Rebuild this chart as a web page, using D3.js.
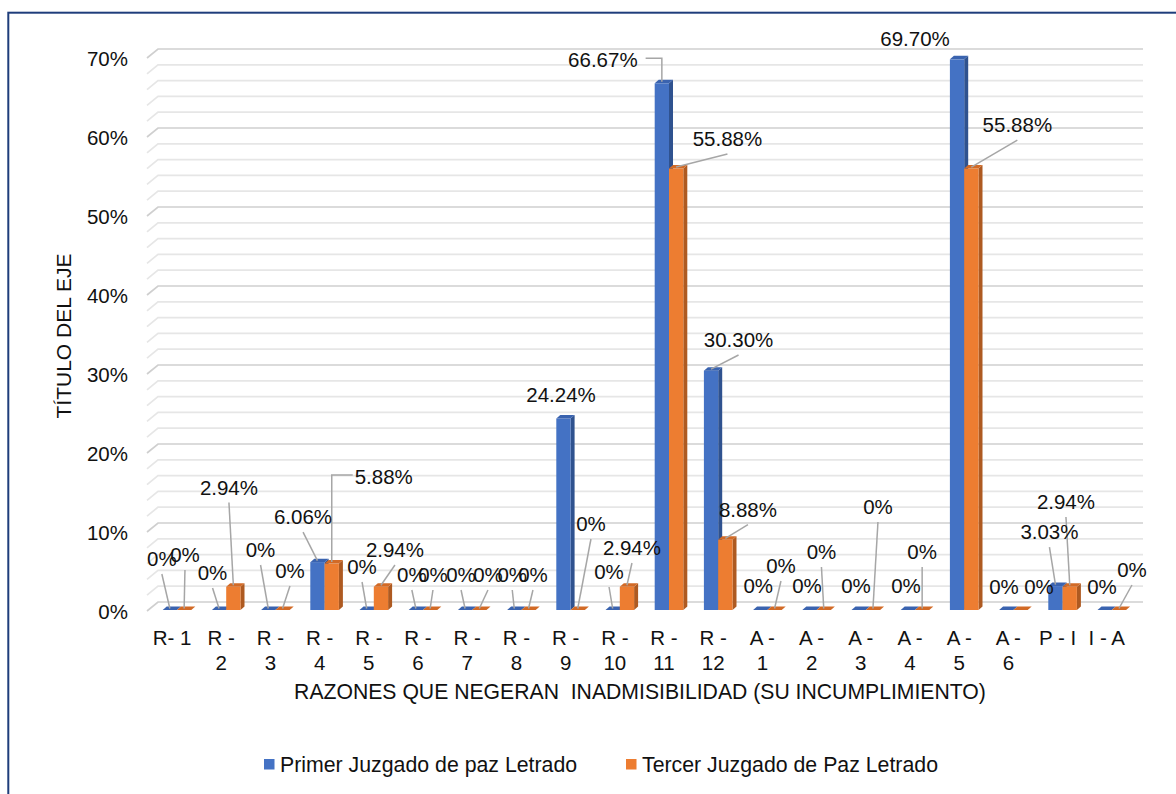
<!DOCTYPE html>
<html>
<head>
<meta charset="utf-8">
<script src="https://cdn.jsdelivr.net/npm/d3@7"></script>
<style>
  html, body { margin: 0; padding: 0; background: #fff; }
  svg text { font-family: "Liberation Sans", Arial, sans-serif; fill: #111; }
</style>
</head>
<body>
<svg width="1176" height="794"></svg>
<script>
// categories and values (percent)
var categories = ["R- 1", "R - 2", "R - 3", "R - 4", "R - 5", "R - 6", "R - 7", "R - 8", "R - 9", "R - 10",
                  "R - 11", "R - 12", "A - 1", "A - 2", "A - 3", "A - 4", "A - 5", "A - 6", "P - I", "I - A"];
var primer = [0, 0, 0, 6.06, 0, 0, 0, 0, 24.24, 0, 66.67, 30.30, 0, 0, 0, 0, 69.70, 0, 3.03, 0];
var tercer = [0, 2.94, 0, 5.88, 2.94, 0, 0, 0, 0, 2.94, 55.88, 8.88, 0, 0, 0, 0, 55.88, 0, 2.94, 0];
var seriesNames = ["Primer Juzgado de paz Letrado", "Tercer Juzgado de Paz Letrado"];
var yTicks = [0, 10, 20, 30, 40, 50, 60, 70];

// label placement relative to bar top: [dx, dy, leader]
var primerLabelPos = [[-8,-51,"line"],[-6.5,-37,"line"],[-7.7,-60,"line"],[-14.4,-45,"line"],[-4.6,-43,"line"],
  [-4,-35,"line"],[-4,-35,"line"],[-2,-35,"line"],[-2.4,-24,"none"],[-3.6,-38,"line"],
  [-59,-23,"elbow"],[27.5,-30.6,"line"],[-2,-24,"none"],[-2.4,-24,"none"],[-2.6,-24,"none"],
  [-1.8,-24,"none"],[-42,-20.4,"none"],[-2.2,-23,"none"],[-6,-54,"line"],[-2.6,-23,"none"]];
var tercerLabelPos = [[0.8,-55,"line"],[-4.4,-99.3,"line"],[7.4,-39,"line"],[52,-86.5,"elbow"],[14,-36.8,"line"],
  [2.8,-35,"line"],[8.6,-35,"line"],[4.4,-35,"line"],[13.2,-86,"line"],[5,-38.8,"line"],
  [51.3,-29.5,"line"],[22.6,-30.3,"line"],[6.4,-44,"line"],[-2.3,-58,"line"],[5,-103,"line"],
  [0,-58,"line"],[46,-43.5,"line"],[18.4,-23,"none"],[-3.8,-84.8,"line"],[13,-40,"line"]];

var svg = d3.select("svg"),
    colors = [{front: "#4472C4", side: "#2F528F", top: "#3A63AF"},
              {front: "#ED7D31", side: "#AE5A21", top: "#D26A26"}],
    depth = {dx: 11, dy: -9},
    barDepth = {dx: 4, dy: -3.5},
    barW = 14.3,
    barShift = 5,
    fmt = function(v) { return v === 0 ? "0%" : v.toFixed(2) + "%"; };

var x = d3.scaleBand().domain(categories).range([147.4, 1131.4]);
var yBar = d3.scaleLinear().domain([0, 70]).range([610, 57]);
var yBack = d3.scaleLinear().domain([0, 70]).range([602, 49]);

// outer border
svg.append("rect")
    .attr("x", 8.3).attr("y", 12.7)
    .attr("width", 1200).attr("height", 820)
    .attr("fill", "none")
    .attr("stroke", "#1F3D7B")
    .attr("stroke-width", 2);

// back wall gridlines (every 2%)
var grid = d3.range(0, 71, 2);
svg.append("g").selectAll("path")
    .data(grid)
    .enter().append("path")
    .attr("d", function(v) {
        var yb = yBack(v);
        return "M147," + (yb - depth.dy) + "L" + (147 + depth.dx) + "," + yb + "L1143," + yb;
    })
    .attr("fill", "none")
    .attr("stroke", function(v) { return v % 10 === 0 ? "#CFCFCF" : "#E6E6E6"; })
    .attr("stroke-width", 1.7);

// y tick labels
svg.append("g").selectAll("text")
    .data(yTicks)
    .enter().append("text")
    .attr("x", 128)
    .attr("y", function(v) { return yBack(v) - depth.dy + 1; })
    .attr("dy", "0.35em")
    .attr("text-anchor", "end")
    .style("font-size", "20.5px")
    .text(function(v) { return v + "%"; });

// y axis title
svg.append("text")
    .attr("transform", "translate(71,336) rotate(-90)")
    .attr("text-anchor", "middle")
    .style("font-size", "21px")
    .text("TÍTULO DEL EJE");

// bars
var rows = categories.map(function(c, i) {
    return {cat: c, i: i, vals: [primer[i], tercer[i]]};
});

function barX(d, s) {
    var c = x(d.cat) + x.bandwidth() / 2 + barShift;
    return s === 0 ? c - barW : c;
}

var barG = svg.append("g");
rows.forEach(function(d) {
    [0, 1].forEach(function(s) {
        var x0 = barX(d, s), x1 = x0 + barW,
            top = yBar(d.vals[s]), bot = yBar(0),
            ddx = barDepth.dx, ddy = barDepth.dy;
        var g = barG.append("g");
        g.append("path")
            .attr("d", "M" + x1 + "," + top + "L" + (x1 + ddx) + "," + (top + ddy) +
                       "L" + (x1 + ddx) + "," + (bot + ddy) + "L" + x1 + "," + bot + "Z")
            .attr("fill", colors[s].side);
        g.append("rect")
            .attr("x", x0).attr("y", top)
            .attr("width", barW).attr("height", Math.max(0, bot - top))
            .attr("fill", colors[s].front);
        g.append("path")
            .attr("d", "M" + x0 + "," + top + "L" + (x0 + ddx) + "," + (top + ddy) +
                       "L" + (x1 + ddx) + "," + (top + ddy) + "L" + x1 + "," + top + "Z")
            .attr("fill", colors[s].top);
    });
});

// data labels with leader lines
var labelG = svg.append("g");
var layouts = [primerLabelPos, tercerLabelPos];
rows.forEach(function(d) {
    [0, 1].forEach(function(s) {
        var ax = barX(d, s) + barW / 2,
            ay = yBar(d.vals[s]),
            p = layouts[s][d.i],
            cx = ax + p[0], cy = ay + p[1];
        var t = labelG.append("text")
            .attr("x", cx).attr("y", cy)
            .attr("dy", "0.35em")
            .attr("text-anchor", "middle")
            .style("font-size", "20.5px")
            .text(fmt(d.vals[s]));
        var hw = t.node().getComputedTextLength() / 2;
        var path = null;
        if (p[2] === "line") {
            path = "M" + cx + "," + (cy + 15) + "L" + ax + "," + (ay - 1.5);
        } else if (p[2] === "elbow") {
            var sx = cx > ax ? cx - hw - 2 : cx + hw + 8;
            path = "M" + sx + "," + (cy - 2) + "L" + ax + "," + (cy - 2) + "L" + ax + "," + (ay - 1.5);
        }
        if (path) {
            labelG.insert("path", "text")
                .attr("d", path)
                .attr("fill", "none")
                .attr("stroke", "#A6A6A6")
                .attr("stroke-width", 1.5);
        }
    });
});

// category labels
var catG = svg.append("g");
categories.forEach(function(c) {
    var m = c.match(/^([RA]) - (\d+)$/),
        lines = m ? [m[1] + " -", m[2]] : [c],
        cx = x(c) + x.bandwidth() / 2;
    var t = catG.append("text")
        .attr("x", cx).attr("y", 645)
        .attr("text-anchor", "middle")
        .style("font-size", "20.5px");
    lines.forEach(function(l, k) {
        t.append("tspan").attr("x", cx).attr("y", 645 + k * 25).text(l);
    });
});

// x axis title
svg.append("text")
    .attr("x", 640).attr("y", 699)
    .attr("text-anchor", "middle")
    .attr("xml:space", "preserve")
    .style("white-space", "pre")
    .style("font-size", "21.2px")
    .text("RAZONES QUE NEGERAN  INADMISIBILIDAD (SU INCUMPLIMIENTO)");

// legend
var legendX = [264, 626];
var legend = svg.append("g").selectAll("g")
    .data(seriesNames)
    .enter().append("g")
    .attr("transform", function(d, i) { return "translate(" + legendX[i] + ",759)"; });
legend.append("rect")
    .attr("width", 10.5).attr("height", 10.5)
    .attr("fill", function(d, i) { return colors[i].front; });
legend.append("text")
    .attr("x", 16).attr("y", 13)
    .style("font-size", "21.3px")
    .text(function(d) { return d; });
</script>
</body>
</html>
